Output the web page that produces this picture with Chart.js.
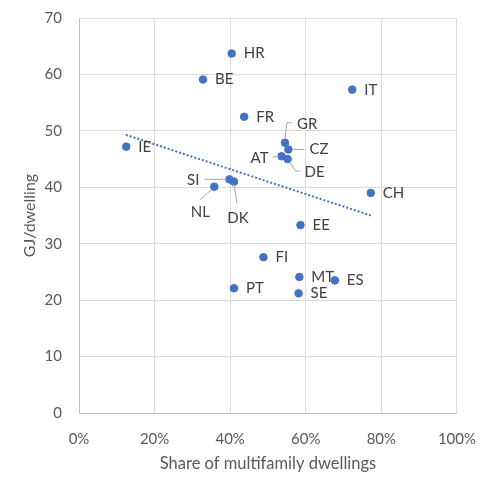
<!DOCTYPE html>
<html>
<head>
<meta charset="utf-8">
<script src="https://cdn.jsdelivr.net/npm/chart.js@4"></script>
<style>
  html, body { margin: 0; padding: 0; background: #fff; }
  #wrap { width: 493px; height: 491px; }
</style>
</head>
<body>
<div id="wrap"><canvas id="scatterChart"></canvas></div>
<script>
const countries = ['HR', 'BE', 'IT', 'FR', 'GR', 'CZ', 'AT', 'DE', 'IE', 'SI', 'DK', 'NL', 'CH', 'EE', 'FI', 'MT', 'ES', 'PT', 'SE'];
const shareMultifamily = [0.404, 0.328, 0.723, 0.437, 0.545, 0.554, 0.536, 0.552, 0.125, 0.398, 0.410, 0.358, 0.772, 0.586, 0.488, 0.583, 0.677, 0.410, 0.581];
const gjPerDwelling = [63.7, 59.1, 57.3, 52.5, 47.9, 46.7, 45.5, 45.0, 47.2, 41.4, 41.0, 40.1, 39.0, 33.3, 27.6, 24.1, 23.5, 22.1, 21.2];

// linear trendline, endpoints
const trendX = [0.124, 0.772];
const trendY = [49.3, 35.0];

const yTicks = [0, 10, 20, 30, 40, 50, 60, 70];

// label placement per country: [dx, dy, align, leader polyline]
const labelPlace = {
    GR: [12, -19, 'left', [[0, -4], [2, -20], [7, -20]]],
    CZ: [21, 0, 'left', [[4, 0], [16, 0]]],
    AT: [-13, 2, 'right', [[-9, 1], [-3, 0]]],
    DE: [17, 13, 'left', [[2, 3], [8, 12], [13, 12]]],
    SI: [-30, 1, 'right', [[-25, 0], [-3, 0]]],
    NL: [-14, 25, 'center', [[-3, 3], [-14, 13]]],
    DK: [4, 37, 'center', [[0, 2], [3, 22]]]
};

const pointLabels = {
    id: 'pointLabels',
    afterDatasetsDraw(chart) {
        const ctx = chart.ctx;
        const meta = chart.getDatasetMeta(1);
        ctx.save();
        ctx.font = '15px Lato';
        ctx.fillStyle = '#404040';
        ctx.textBaseline = 'middle';
        meta.data.forEach((pt, i) => {
            const name = countries[i];
            const place = labelPlace[name] || [12, 0, 'left', null];
            if (place[3]) {
                ctx.strokeStyle = '#a6a6a6';
                ctx.lineWidth = 1;
                ctx.beginPath();
                place[3].forEach((p, j) => {
                    if (j === 0) ctx.moveTo(pt.x + p[0], pt.y + p[1]);
                    else ctx.lineTo(pt.x + p[0], pt.y + p[1]);
                });
                ctx.stroke();
            }
            ctx.textAlign = place[2];
            ctx.fillText(name, pt.x + place[0], pt.y + place[1]);
        });
        ctx.restore();
    }
};

const ctx = document.getElementById('scatterChart').getContext('2d');
new Chart(ctx, {
    type: 'scatter',
    data: {
        datasets: [
            {
                label: 'Trend',
                type: 'line',
                data: trendX.map((x, i) => ({x: x, y: trendY[i]})),
                borderColor: '#4472c4',
                borderWidth: 2,
                borderDash: [2, 2],
                pointRadius: 0,
                fill: false
            },
            {
                label: 'GJ/dwelling',
                data: shareMultifamily.map((x, i) => ({x: x, y: gjPerDwelling[i]})),
                backgroundColor: '#4472c4',
                borderColor: '#4472c4',
                pointRadius: 3.8,
                pointHoverRadius: 3.8
            }
        ]
    },
    options: {
        responsive: true,
        maintainAspectRatio: false,
        animation: false,
        layout: { padding: { top: 18, right: 36, left: 0, bottom: 0 } },
        plugins: {
            legend: { display: false },
            tooltip: { enabled: false }
        },
        scales: {
            x: {
                type: 'linear',
                min: 0,
                max: 1,
                afterFit: scale => { scale.height = 78; },
                ticks: {
                    stepSize: 0.2,
                    padding: 17,
                    color: '#595959',
                    font: { family: 'Lato', size: 15 },
                    callback: v => Math.round(v * 100) + '%'
                },
                grid: { color: '#d9d9d9', drawTicks: false },
                border: { color: '#bfbfbf' },
                title: {
                    display: true,
                    text: 'Share of multifamily dwellings',
                    color: '#595959',
                    font: { family: 'Lato', size: 16.5 },
                    padding: { top: 4, bottom: 17 }
                }
            },
            y: {
                min: 0,
                max: 70,
                afterFit: scale => {
                    scale.width = 79;
                    scale.paddingTop = 0;
                    scale.paddingBottom = 0;
                },
                afterBuildTicks: scale => { scale.ticks = yTicks.map(v => ({value: v})); },
                ticks: {
                    padding: 17,
                    color: '#595959',
                    font: { family: 'Lato', size: 15 }
                },
                grid: { color: '#d9d9d9', drawTicks: false },
                border: { color: '#bfbfbf' },
                title: {
                    display: true,
                    text: 'GJ/dwelling',
                    color: '#595959',
                    font: { family: 'Lato', size: 16 },
                    padding: { top: 20, bottom: 4 }
                }
            }
        }
    },
    plugins: [pointLabels]
});
</script>
</body>
</html>
